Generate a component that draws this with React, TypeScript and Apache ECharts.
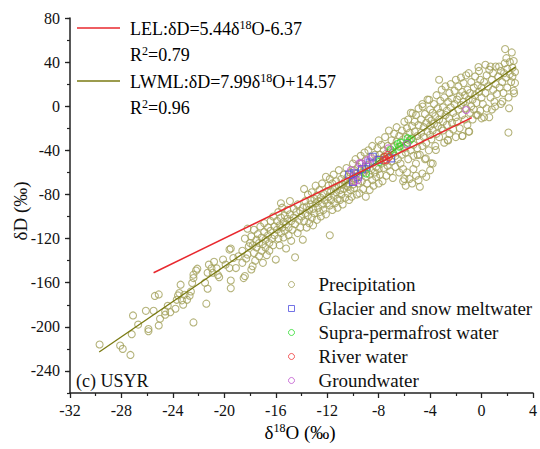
import React, { useEffect, useRef } from "react";
import * as echarts from "echarts";

const FONT = "'Liberation Serif', 'Times New Roman', serif";

const xTicks = { min: -32, max: 4, interval: 4 };
const yRange = { min: -260, max: 80, minorStep: 20 };
const yMajorTicks = [-240, -200, -160, -120, -80, -40, 0, 40, 80];

const precipitation: [number, number][] = [
  [-29.7,-216],[-28.1,-217],[-27.9,-220],[-27.3,-225.5],[-27.2,-206.7],[-27.1,-189.7],[-26.7,-198],[-26.1,-185.5],[-25.9,-204],[-25.9,-202],[-25.5,-185.5],[-25.4,-172],[-25.1,-170.6],[-25.1,-198.8],[-25.0,-192.7],[-24.6,-189],[-24.6,-186],[-24.4,-181],[-24.2,-186.7],[-23.8,-183.6],[-23.7,-175.5],[-23.6,-171.5],[-23.5,-169.4],[-23.4,-161.8],[-23.3,-176],[-23.2,-180],[-23.1,-171],[-22.9,-175.5],[-22.7,-171.8],[-22.6,-168],[-22.5,-160.3],[-22.4,-155.8],[-22.4,-196],[-22.4,-152.7],[-22.2,-149],[-22.1,-147.3],[-21.5,-160],[-21.4,-179],[-21.3,-165.5],[-21.3,-151],[-21.2,-143.6],[-21.0,-147],[-20.9,-151],[-20.8,-141],[-20.6,-147],[-20.5,-153],[-20.4,-155],[-20.1,-139],[-19.9,-143.6],[-19.6,-146.7],[-19.6,-130],[-19.5,-129],[-19.5,-158],[-19.5,-165],[-19.3,-137.6],[-19.1,-146.7],[-18.9,-136],[-18.6,-131],[-18.5,-155.8],[-18.4,-154],[-18.2,-111],[-18.2,-134.5],[-18.0,-124],[-17.8,-145],
  [-17.9,-118],[-17.8,-126],[-17.7,-133],[-17.7,-112],[-17.6,-140],[-17.5,-121],[-17.5,-128],[-17.4,-116],[-17.3,-136],[-17.3,-124],[-17.2,-109],[-17.1,-131],[-17.1,-119],[-17.0,-125],[-17.0,-142],[-16.9,-106],[-16.9,-114],[-16.8,-128],[-16.8,-121],[-16.7,-135],[-16.6,-117],[-16.6,-110],[-16.5,-124],[-16.5,-131],[-16.4,-104],[-16.4,-113],[-16.3,-120],[-16.2,-126],[-16.2,-100],[-16.1,-109],[-16.1,-117],[-16.0,-139],[-18.3,-138],[-18.1,-127],[-17.9,-148],[-18.4,-120],[-18.6,-142],
  [-15.9,-112],[-15.9,-104],[-15.8,-120],[-15.8,-96],[-15.7,-108],[-15.7,-126],[-15.6,-115],[-15.6,-101],[-15.5,-110],[-15.5,-92],[-15.4,-119],[-15.4,-105],[-15.3,-99],[-15.3,-113],[-15.2,-129],[-15.2,-107],[-15.1,-94],[-15.1,-102],[-15.0,-117],[-15.0,-110],[-14.9,-86],[-14.9,-98],[-14.8,-104],[-14.8,-122],[-14.7,-112],[-14.6,-93],[-14.6,-101],[-14.5,-137],[-14.5,-107],[-14.4,-96],[-14.3,-115],[-14.3,-89],[-14.2,-103],[-14.1,-110],[-14.1,-95],[-14.0,-100],[-15.6,-88],
  [-13.9,-92],[-13.9,-121],[-13.8,-104],[-13.8,-75],[-13.7,-97],[-13.7,-86],[-13.6,-110],[-13.6,-91],[-13.5,-80],[-13.5,-99],[-13.4,-94],[-13.4,-106],[-13.3,-85],[-13.3,-89],[-13.2,-101],[-13.2,-78],[-13.1,-108],[-13.1,-93],[-13.0,-84],[-13.0,-97],[-12.9,-88],[-12.9,-72],[-12.8,-103],[-12.8,-81],[-12.7,-92],[-12.7,-86],[-12.6,-96],[-12.6,-76],[-12.5,-83],[-12.5,-100],[-12.4,-89],[-12.4,-70],[-12.3,-79],[-12.3,-94],[-12.2,-85],[-12.1,-64],[-12.1,-98],[-12.0,-77],[-12.0,-88],[-11.8,-117],
  [-11.9,-82],[-11.9,-72],[-11.8,-90],[-11.8,-66],[-11.7,-77],[-11.7,-85],[-11.6,-94],[-11.6,-70],[-11.5,-81],[-11.5,-62],[-11.4,-74],[-11.4,-88],[-11.3,-78],[-11.3,-68],[-11.2,-84],[-11.2,-92],[-11.1,-72],[-11.1,-58],[-11.0,-76],[-11.0,-85],[-10.9,-66],[-10.9,-80],[-10.8,-71],[-10.8,-89],[-10.7,-62],[-10.7,-75],[-10.6,-83],[-10.6,-68],[-10.5,-56],[-10.5,-72],[-10.4,-79],[-10.4,-73],[-10.4,-64],[-10.3,-85],[-10.3,-70],[-10.2,-60],[-10.2,-76],[-10.1,-67],[-10.1,-82],[-10.0,-52],[-10.0,-71],[-10.0,-63],
  [-9.9,-58],[-9.9,-74],[-9.8,-66],[-9.8,-48],[-9.7,-61],[-9.7,-80],[-9.6,-70],[-9.6,-55],[-9.5,-79],[-9.5,-63],[-9.4,-45],[-9.4,-58],[-9.3,-68],[-9.3,-52],[-9.2,-75],[-9.2,-60],[-9.1,-42],[-9.1,-56],[-9.0,-82],[-9.0,-64],[-9.0,-49],[-8.9,-70],[-8.9,-57],[-8.8,-40],[-8.8,-53],[-8.7,-62],[-8.7,-76],[-8.6,-46],[-8.6,-58],[-8.5,-67],[-8.5,-36],[-8.4,-51],[-8.4,-72],[-8.3,-44],[-8.3,-60],[-8.2,-55],[-8.2,-64],[-8.1,-38],[-8.1,-48],[-8.0,-70],[-8.0,-57],[-8.0,-31],
  [-7.9,-44],[-7.9,-62],[-7.8,-52],[-7.8,-35],[-7.7,-47],[-7.7,-68],[-7.6,-40],[-7.6,-56],[-7.5,-28],[-7.5,-50],[-7.4,-63],[-7.4,-43],[-7.3,-36],[-7.3,-54],[-7.2,-22],[-7.2,-46],[-7.1,-59],[-7.1,-39],[-7.0,-31],[-7.0,-50],[-6.9,-42],[-6.9,-65],[-6.8,-25],[-6.8,-36],[-6.7,-55],[-6.7,-45],[-6.6,-19],[-6.6,-32],[-6.5,-48],[-6.5,-40],[-6.4,-27],[-6.4,-60],[-6.3,-36],[-6.3,-52],[-6.2,-22],[-6.2,-44],[-6.1,-30],[-6.1,-57],[-6.0,-38],[-6.0,-14],[-6.0,-66],
  [-6.1,-68],[-5.9,-72],[-5.6,-66],[-5.4,-70],[-5.1,-63],[-4.9,-67],[-4.6,-61],[-4.3,-64],[-4.0,-58],[-5.8,-60],[-5.3,-57],[-4.8,-73],
  [-5.9,-28],[-5.9,-42],[-5.8,-20],[-5.8,-35],[-5.7,-48],[-5.7,-12],[-5.6,-31],[-5.6,-24],[-5.5,-40],[-5.5,-6],[-5.4,-18],[-5.4,-29],[-5.3,-45],[-5.3,-35],[-5.2,-14],[-5.2,-23],[-5.1,-52],[-5.1,-8],[-5.0,-27],[-5.0,-38],[-4.9,-17],[-4.9,-2],[-4.8,-31],[-4.8,-44],[-4.7,-12],[-4.7,-24],[-4.6,-36],[-4.6,2],[-4.5,-19],[-4.5,-28],[-4.4,-48],[-4.4,-7],[-4.3,-15],[-4.3,-33],[-4.2,-23],[-4.2,6],[-4.1,-40],[-4.1,-11],[-4.0,-26],[-4.0,-3],[-4.0,-18],
  [-3.9,-13],[-3.9,-30],[-3.8,-6],[-3.8,-22],[-3.8,-52],[-3.7,2],[-3.7,-16],[-3.6,-36],[-3.6,-9],[-3.5,-25],[-3.5,10],[-3.4,-2],[-3.4,-18],[-3.3,24],[-3.3,-12],[-3.3,-28],[-3.2,5],[-3.2,-6],[-3.1,-20],[-3.1,15],[-3.0,-22],[-3.0,-1],[-3.0,-14],[-2.9,8],[-2.9,-33],[-2.8,-8],[-2.8,18],[-2.7,-4],[-2.7,-17],[-2.6,-31],[-2.6,4],[-2.5,12],[-2.5,-11],[-2.5,-25],[-2.4,-1],[-2.4,20],[-2.3,-15],[-2.3,7],[-2.2,-6],[-2.2,-21],[-2.1,14],[-2.1,2],[-2.0,-10],[-2.0,24],[-2.0,-28],
  [-1.9,6],[-1.9,-14],[-1.8,-3],[-1.8,18],[-1.7,9],[-1.7,-20],[-1.6,1],[-1.6,26],[-1.5,-8],[-1.5,13],[-1.5,-27],[-1.4,4],[-1.4,21],[-1.3,-12],[-1.3,10],[-1.2,-2],[-1.2,28],[-1.1,15],[-1.1,-17],[-1.0,6],[-1.0,30],[-1.0,-23],[-0.9,-6],[-0.9,12],[-0.8,22],[-0.8,0],[-0.7,-12],[-0.7,6],[-0.6,17],[-0.6,-3],[-0.5,27],[-0.5,10],[-0.4,-8],[-0.4,3],[-0.3,19],[-0.3,-8],[-0.2,13],[-0.2,32],[-0.1,-4],[-0.1,24],[0.0,8],[0.0,17],[0.0,-11],[-0.24,35.5],
  [0.1,2],[0.2,-10],[0.2,22],[0.3,37.6],[0.3,12],[0.4,28],[0.4,-2],[0.5,18],[0.6,-10],[0.6,33],[0.7,8],[0.7,36],[0.8,24],[0.8,-3],[0.9,15],[0.9,30],[1.0,4],[1.05,-0.3],[1.1,20],[1.1,36],[1.2,11],[1.3,27],[1.36,36],[1.4,17],[1.5,2],[1.5,32],[1.6,22],[1.62,4.3],[1.7,12],[1.75,30],[1.8,39],[1.83,51.8],[1.9,26],[1.93,43.6],[2.0,17],[2.0,34],[2.1,8],[2.09,-23.9],[2.14,-1.8],[2.2,29],[2.2,40],[2.3,22],[2.35,48.8],[2.4,27],[2.4,35],[2.5,14],[2.53,11.8],[2.6,21],[2.6,31],[2.5,41],
  [-0.96,-23],[-1.48,-27],[-2.64,-30.6],[-3.55,-39.7],[-4.33,-47.3],[-4.97,-44.2],[-3.94,-51.8],[-4.07,5.8],[-4.58,-0.3],[-5.36,-6.4]
];

const glacier: [number, number][] = [
  [-8.47,-45.8],[-8.98,-54.9],[-9.9,-60.9],[-10.0,-68.6],[-7.05,-47.3],[-7.95,-48.8],[-9.3,-57],[-8.7,-51],[-9.6,-64],[-10.3,-62]
];
const supraPermafrost: [number, number][] = [
  [-6.4,-36.7],[-5.75,-33.1],[-6.53,-34.3],[-7.05,-39.7],[-7.56,-45.8],[-7.95,-50.4],[-6.3,-33],[-5.75,-29],[-8.98,-60.9],[-6.9,-42],[-5.5,-30]
];
const river: [number, number][] = [
  [-7.56,-45.8],[-7.4,-48.8],[-7.3,-44],[-7.6,-49],[-7.2,-46]
];
const groundwater: [number, number][] = [
  [-7.25,-38.2],[-5.8,-34.3],[-9.5,-51.8],[-10.15,-58],[-9.9,-68.5],[-1.2,-3.4],[-8.85,-48.8],[-8.59,-47.3],[-9.37,-51.8],[-9.63,-67]
];

const lwmlLine: [number, number][] = [[-29.73, -222.9], [2.65, 35.7]];
const lelLine: [number, number][] = [[-25.5, -151], [-0.76, -10.3]];

const C_PRE = "#a3a05a";
const C_GLA = "#5050e0";
const C_SUP = "#30dd30";
const C_RIV = "#f03a3a";
const C_GW = "#c058d0";
const C_LWML = "#7a7a12";
const C_LEL = "#e8282e";

const legendItems: { name: string; icon: string; color: string }[] = [
  { name: "Precipitation", icon: "circle", color: C_PRE },
  { name: "Glacier and snow meltwater", icon: "rect", color: C_GLA },
  { name: "Supra-permafrost water", icon: "circle", color: C_SUP },
  { name: "River water", icon: "circle", color: C_RIV },
  { name: "Groundwater", icon: "circle", color: C_GW },
];

function hollow(name: string, data: [number, number][], color: string, symbol = "circle", z = 3) {
  return {
    name,
    type: "scatter",
    data,
    symbol,
    symbolSize: 7,
    z,
    color,
    itemStyle: { color: "rgba(0,0,0,0)", borderColor: color, borderWidth: 1.1 },
  };
}

export default function App() {
  const ref = useRef<HTMLDivElement>(null);
  useEffect(() => {
    if (!ref.current) return;
    const chart = echarts.init(ref.current, null, { renderer: "svg" });
    const axisColor = "#222";
    const rich = {
      n: { fontSize: 18, fontFamily: FONT, color: "#111" },
      s: { fontSize: 12, fontFamily: FONT, color: "#111", padding: [0, 0, 9, 0] },
    };
    chart.setOption({
      animation: false,
      backgroundColor: "#fff",
      textStyle: { fontFamily: FONT },
      grid: { left: 70, right: 6, top: 18, bottom: 56 },
      xAxis: {
        type: "value",
        min: xTicks.min,
        max: xTicks.max,
        interval: xTicks.interval,
        splitLine: { show: false },
        axisLine: { onZero: false, lineStyle: { color: axisColor, width: 1.5 } },
        axisTick: { length: 5, lineStyle: { color: axisColor, width: 1.3 } },
        minorTick: { show: true, splitNumber: 2, length: 3, lineStyle: { color: axisColor, width: 1.2 } },
        axisLabel: { fontSize: 16, color: "#111", margin: 9, fontFamily: FONT },
      },
      yAxis: [
        {
          type: "value",
          position: "left",
          min: yRange.min,
          max: yRange.max,
          interval: yRange.minorStep,
          splitLine: { show: false },
          axisLine: { onZero: false, lineStyle: { color: axisColor, width: 1.5 } },
          axisTick: { customValues: yMajorTicks, length: 5, lineStyle: { color: axisColor, width: 1.3 } },
          axisLabel: {
            customValues: yMajorTicks,
            fontSize: 16,
            color: "#111",
            margin: 10,
            fontFamily: FONT,
          },
        },
        {
          type: "value",
          position: "left",
          min: yRange.min,
          max: yRange.max,
          interval: yRange.minorStep,
          splitLine: { show: false },
          axisLine: { show: false, onZero: false },
          axisTick: { length: 3, lineStyle: { color: axisColor, width: 1.2 } },
          axisLabel: { show: false },
        },
      ],
      legend: {
        orient: "vertical",
        left: 288,
        top: 275,
        padding: 0,
        itemGap: 5,
        itemWidth: 6,
        itemHeight: 6,
        data: legendItems.map((d) => ({
          name: d.name,
          icon: d.icon,
          itemStyle: { color: "rgba(0,0,0,0)", borderColor: d.color, borderWidth: 1 },
        })),
        textStyle: { fontSize: 19, color: "#111", fontFamily: FONT, padding: [0, 0, 0, 19] },
      },
      series: [
        hollow("Precipitation", precipitation, C_PRE, "circle", 2),
        {
          name: "LWML",
          type: "line",
          data: lwmlLine,
          showSymbol: false,
          z: 4,
          lineStyle: { color: C_LWML, width: 1.3 },
        },
        hollow("Glacier and snow meltwater", glacier, C_GLA, "rect", 5),
        hollow("Supra-permafrost water", supraPermafrost, C_SUP, "circle", 5),
        hollow("Groundwater", groundwater, C_GW, "circle", 5),
        hollow("River water", river, C_RIV, "circle", 5),
        {
          name: "LEL",
          type: "line",
          data: lelLine,
          showSymbol: false,
          z: 6,
          lineStyle: { color: C_LEL, width: 1.5 },
        },
      ],
      graphic: [
        { type: "line", shape: { x1: 77, y1: 28, x2: 120, y2: 28 }, style: { stroke: C_LEL, lineWidth: 1.5 } },
        {
          type: "text", x: 130, y: 29,
          style: { text: "{n|LEL:δD=5.44δ}{s|18}{n|O-6.37}", rich, verticalAlign: "middle" },
        },
        {
          type: "text", x: 130, y: 55,
          style: { text: "{n|R}{s|2}{n|=0.79}", rich, verticalAlign: "middle" },
        },
        { type: "line", shape: { x1: 77, y1: 81, x2: 120, y2: 81 }, style: { stroke: C_LWML, lineWidth: 1.5 } },
        {
          type: "text", x: 130, y: 82,
          style: { text: "{n|LWML:δD=7.99δ}{s|18}{n|O+14.57}", rich, verticalAlign: "middle" },
        },
        {
          type: "text", x: 130, y: 108,
          style: { text: "{n|R}{s|2}{n|=0.96}", rich, verticalAlign: "middle" },
        },
        {
          type: "text", x: 76, y: 381,
          style: { text: "(c) USYR", fontSize: 18, fontFamily: FONT, fill: "#111", verticalAlign: "middle" },
        },
        {
          type: "text", x: 20, y: 211, rotation: Math.PI / 2,
          style: { text: "δD (‰)", fontSize: 19, fontFamily: FONT, fill: "#111", align: "center", verticalAlign: "middle" },
        },
        {
          type: "text", x: 300, y: 432,
          style: {
            text: "{n|δ}{s|18}{n|O (‰)}",
            rich: {
              n: { fontSize: 19, fontFamily: FONT, color: "#111" },
              s: { fontSize: 12, fontFamily: FONT, color: "#111", padding: [0, 0, 9, 0] },
            },
            align: "center",
            verticalAlign: "middle",
          },
        },
      ],
    });
    return () => chart.dispose();
  }, []);
  return (
    <div
      ref={ref}
      style={{ position: "absolute", left: 0, top: 0, width: 540, height: 449 }}
    />
  );
}
